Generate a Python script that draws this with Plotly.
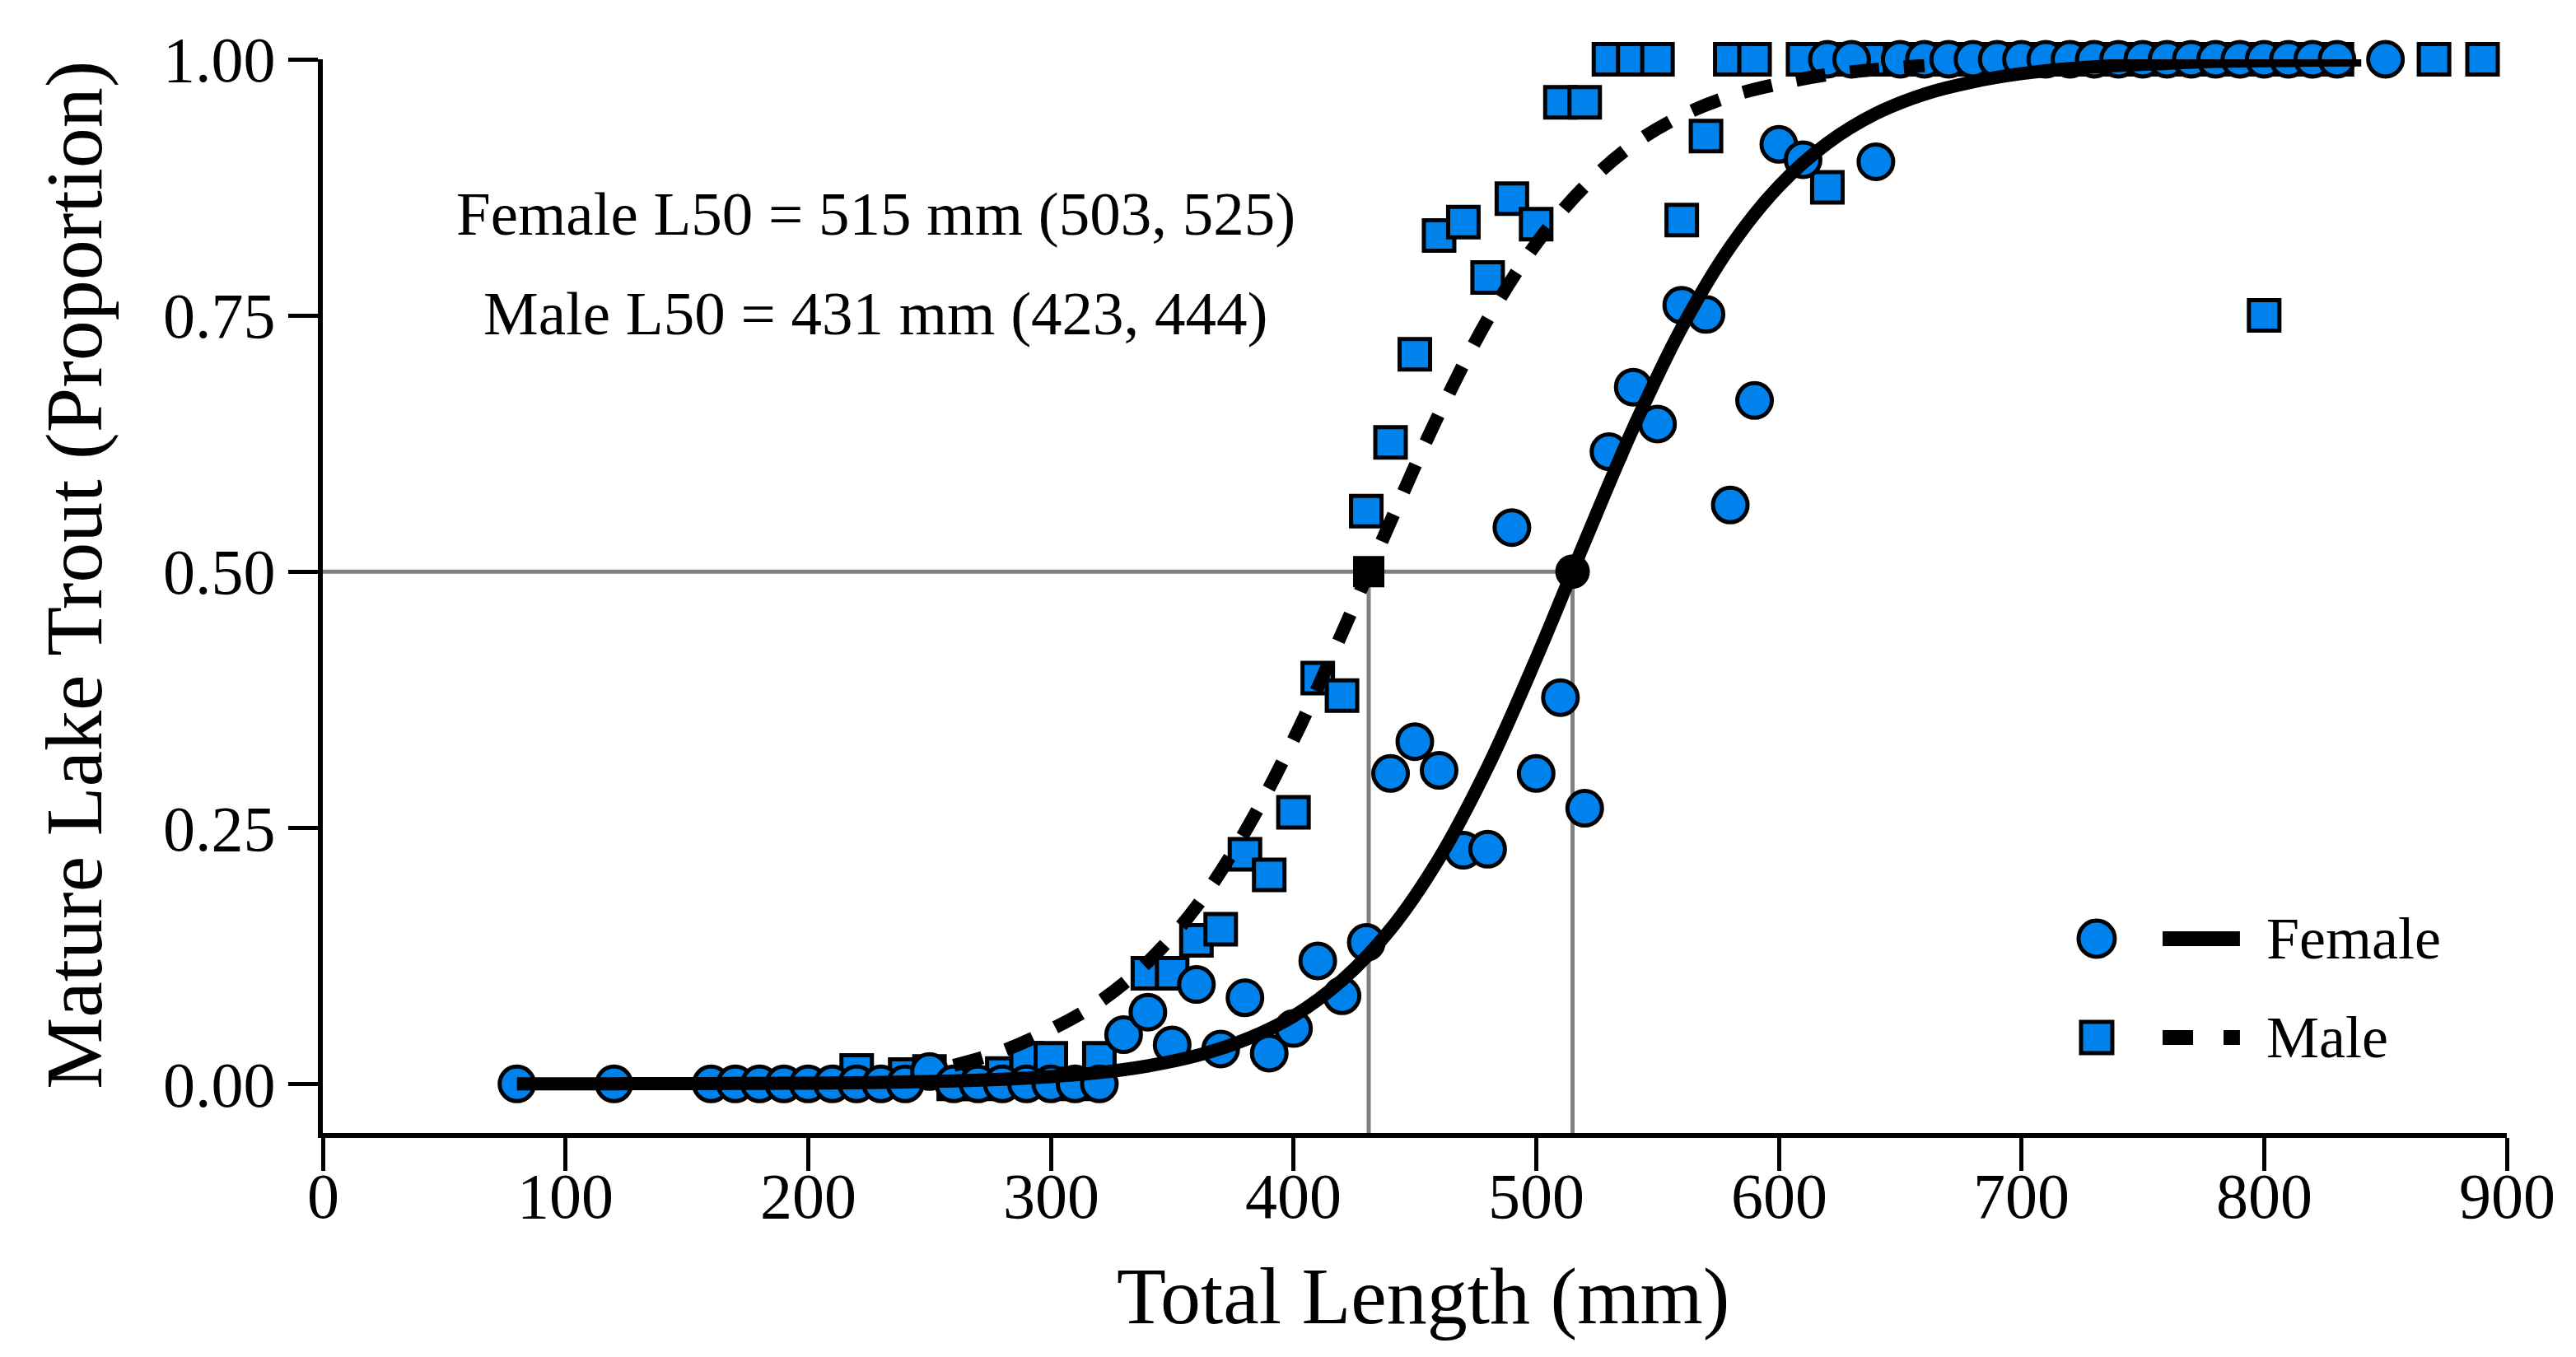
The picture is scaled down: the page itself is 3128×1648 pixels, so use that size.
import plotly.graph_objects as go

# observed proportions mature, by 10 mm length bin
female_len = [80, 120, 160, 170, 180, 190, 200, 210, 220, 230, 240, 250,
              260, 270, 280, 290, 300, 310, 320, 330, 340, 350, 360, 370,
              380, 390, 400, 410, 420, 430, 440, 450, 460, 470, 480, 490,
              500, 510, 520, 530, 540, 550, 560, 570, 580, 590, 600, 610,
              620, 630, 640, 650, 660, 670, 680, 690, 700, 710, 720, 730,
              740, 750, 760, 770, 780, 790, 800, 810, 820, 830, 850]
female_prop = [0, 0, 0, 0, 0, 0, 0, 0, 0, 0, 0, 0.012,
               0, 0, 0, 0, 0, 0, 0, 0.048, 0.070, 0.038, 0.097, 0.034,
               0.084, 0.030, 0.054, 0.120, 0.086, 0.138, 0.303, 0.334, 0.306, 0.228, 0.229, 0.543,
               0.303, 0.377, 0.269, 0.617, 0.680, 0.644, 0.760, 0.751, 0.565, 0.667, 0.917, 0.902,
               1, 1, 0.900, 1, 1, 1, 1, 1, 1, 1, 1, 1,
               1, 1, 1, 1, 1, 1, 1, 1, 1, 1, 1]

male_len = [220, 240, 250, 260, 270, 280, 290, 300, 310, 320, 340, 350,
            360, 370, 380, 390, 400, 410, 420, 430, 440, 450, 460, 470,
            480, 490, 500, 510, 520, 530, 540, 550, 560, 570, 580, 590,
            610, 620, 630, 640, 650, 660, 670, 680, 690, 700, 710, 720,
            730, 740, 750, 760, 770, 780, 790, 800, 810, 820, 830, 870, 890]
male_prop = [0.013, 0.009, 0.012, 0, 0, 0.01, 0.025, 0.025, 0, 0.025, 0.108, 0.108,
             0.140, 0.151, 0.224, 0.204, 0.265, 0.396, 0.379, 0.559, 0.626, 0.712, 0.828, 0.841,
             0.787, 0.864, 0.839, 0.958, 0.958, 1, 1, 1, 0.843, 0.925, 1, 1,
             1, 0.875, 1, 1, 1, 1, 1, 1, 1, 1, 1, 1,
             1, 1, 1, 1, 1, 1, 1, 0.75, 1, 1, 1, 1, 1]

# fitted maturity curves
female_fit_len = [80, 100, 120, 140, 160, 180, 200, 220, 240, 260, 280, 300,
                  320, 340, 360, 380, 400, 420, 440, 460, 480, 500, 520, 540,
                  560, 580, 600, 620, 640, 660, 680, 700, 720, 740, 760, 780,
                  800, 820, 840]
female_fit = [0.00005, 0.00007, 0.0001, 0.0002, 0.0003, 0.0005, 0.0007, 0.0011, 0.0018, 0.0028, 0.0045, 0.0071,
              0.011, 0.0175, 0.0275, 0.043, 0.066, 0.101, 0.151, 0.220, 0.309, 0.415, 0.529, 0.640,
              0.738, 0.817, 0.876, 0.918, 0.947, 0.966, 0.978, 0.986, 0.991, 0.994, 0.996, 0.998,
              0.9986, 0.9991, 0.9994]

male_fit_len = [260, 280, 300, 320, 340, 360, 380, 400, 420, 440, 460, 480,
                500, 520, 540, 560, 580, 600, 620, 640, 660]
male_fit = [0.018, 0.032, 0.053, 0.080, 0.119, 0.173, 0.246, 0.336, 0.440, 0.549, 0.654, 0.746,
            0.820, 0.876, 0.917, 0.945, 0.964, 0.976, 0.985, 0.990, 0.994]

l50_female = 515
l50_male = 431
ci_female = (503, 525)
ci_male = (423, 444)

x_ticks = [0, 100, 200, 300, 400, 500, 600, 700, 800, 900]
y_ticks = [0, 0.25, 0.5, 0.75, 1.0]

BLUE = "#0082EC"
FONT = "Liberation Serif"
y_low = -0.048

fig = go.Figure()

fig.add_trace(go.Scatter(x=male_len, y=male_prop, mode="markers", cliponaxis=False,
                         marker=dict(symbol="square", size=37, color=BLUE,
                                     line=dict(color="black", width=5)),
                         showlegend=False))
fig.add_trace(go.Scatter(x=female_len, y=female_prop, mode="markers", cliponaxis=False,
                         marker=dict(symbol="circle", size=42, color=BLUE,
                                     line=dict(color="black", width=5)),
                         showlegend=False))
fig.add_trace(go.Scatter(x=male_fit_len, y=male_fit, mode="lines", line_shape="spline",
                         line=dict(color="black", width=16, dash="36px,30px"),
                         showlegend=False))
fig.add_trace(go.Scatter(x=female_fit_len, y=female_fit, mode="lines", line_shape="spline",
                         line=dict(color="black", width=16),
                         showlegend=False))
fig.add_trace(go.Scatter(x=[l50_male], y=[0.5], mode="markers",
                         marker=dict(symbol="square", size=38, color="black"),
                         showlegend=False))
fig.add_trace(go.Scatter(x=[l50_female], y=[0.5], mode="markers",
                         marker=dict(symbol="circle", size=42, color="black"),
                         showlegend=False))

grey = dict(color="#808080", width=5)
fig.add_shape(type="line", x0=0, x1=l50_female, y0=0.5, y1=0.5, line=grey, layer="below")
for v in (l50_male, l50_female):
    fig.add_shape(type="line", x0=v, x1=v, y0=y_low, y1=0.5, line=grey, layer="below")

# legend drawn by hand: marker, line sample, label
for yp, sym, dash, name in [(0.181, "circle", "solid", "Female"),
                            (0.089, "rect", "37px,37px", "Male")]:
    half = 22 if sym == "circle" else 19
    fig.add_shape(type=sym, xref="paper", yref="paper",
                  xsizemode="pixel", ysizemode="pixel", xanchor=0.8122, yanchor=yp,
                  x0=-half, x1=half, y0=-half, y1=half,
                  fillcolor=BLUE, line=dict(color="black", width=5))
    fig.add_shape(type="line", xref="paper", yref="paper", x0=0.8424, x1=0.8778,
                  y0=yp, y1=yp, line=dict(color="black", width=18, dash=dash))
    fig.add_annotation(text=name, xref="paper", yref="paper", x=0.889, y=yp,
                       xanchor="left", yanchor="middle", showarrow=False,
                       font=dict(size=72, color="black", family=FONT))

fig.add_annotation(text=f"Female L50 = {l50_female} mm ({ci_female[0]}, {ci_female[1]})",
                   x=228, y=0.849, xanchor="center", yanchor="middle", showarrow=False,
                   font=dict(size=75, color="black", family=FONT))
fig.add_annotation(text=f"Male L50 = {l50_male} mm ({ci_male[0]}, {ci_male[1]})",
                   x=228, y=0.752, xanchor="center", yanchor="middle", showarrow=False,
                   font=dict(size=75, color="black", family=FONT))

# x tick labels sit closer to the ticks than plotly's default spacing
for t in x_ticks:
    fig.add_annotation(text=str(t), x=t, xref="x", y=-0.0583, yref="paper",
                       xanchor="center", yanchor="middle", showarrow=False,
                       font=dict(size=78, color="black", family=FONT))

fig.add_annotation(text="Total Length (mm)", xref="paper", yref="paper", x=0.5038, y=-0.152,
                   xanchor="center", yanchor="middle", showarrow=False,
                   font=dict(size=98, color="black", family=FONT))
fig.add_annotation(text="Mature Lake Trout (Proportion)", xref="paper", yref="paper",
                   x=-0.1139, y=0.52, xanchor="center", yanchor="middle",
                   textangle=-90, showarrow=False,
                   font=dict(size=98, color="black", family=FONT))

fig.update_xaxes(range=[0, 900], tickvals=x_ticks, showticklabels=False,
                 showline=True, linecolor="black", linewidth=6,
                 ticks="outside", ticklen=40, tickwidth=5, tickcolor="black",
                 showgrid=False, zeroline=False)
fig.update_yaxes(range=[y_low, 1.0], tickvals=y_ticks, tickformat=".2f", showline=True,
                 linecolor="black", linewidth=6, ticks="outside", ticklen=36, tickwidth=5,
                 tickcolor="black", showgrid=False, zeroline=False,
                 tickfont=dict(size=78, color="black", family=FONT))

fig.update_layout(width=3128, height=1648, plot_bgcolor="white", paper_bgcolor="white",
                  margin=dict(l=384, r=92, t=64, b=280, autoexpand=False),
                  showlegend=False)

fig.write_html("out.html")
